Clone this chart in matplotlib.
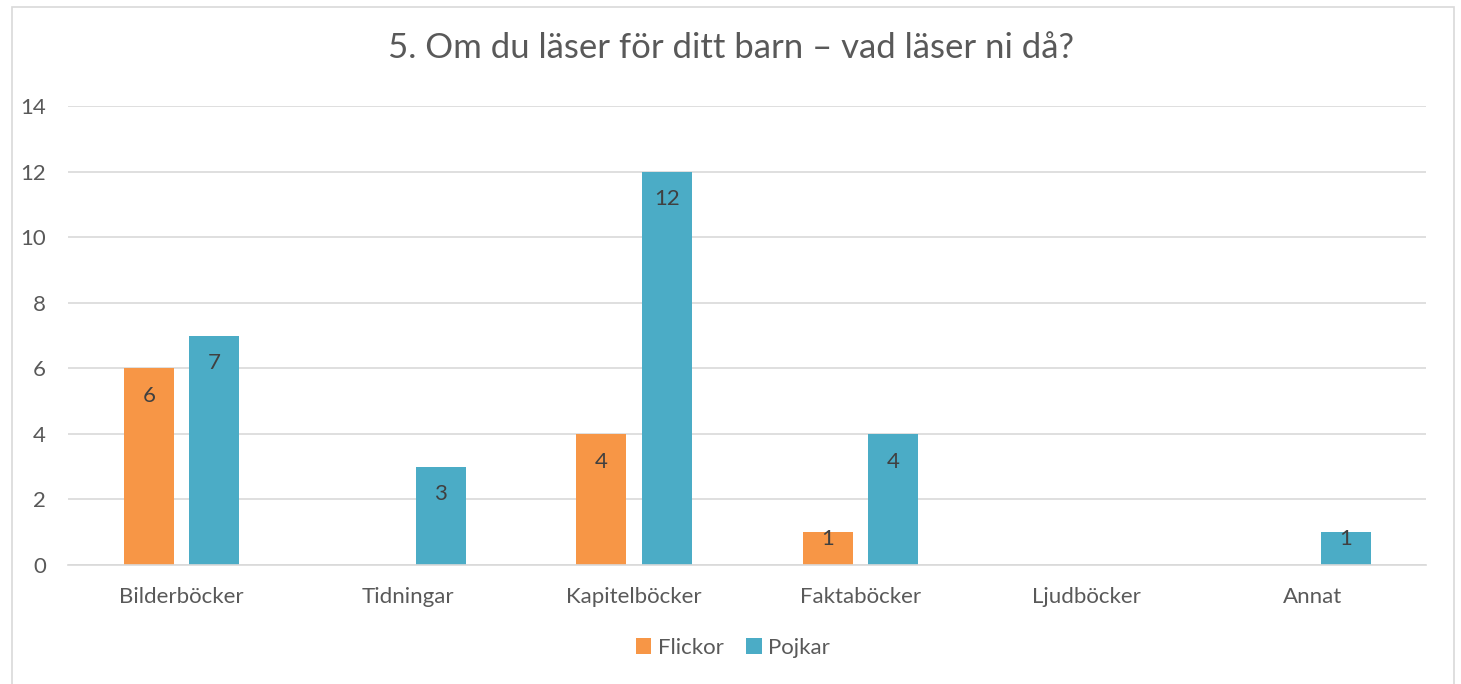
import matplotlib.pyplot as plt
import numpy as np
from matplotlib.patches import Rectangle

categories = ["Bilderböcker", "Tidningar", "Kapitelböcker", "Faktaböcker", "Ljudböcker", "Annat"]
flickor = [6, 0, 4, 1, 0, 0]
pojkar = [7, 3, 12, 4, 0, 1]
title = "5. Om du läser för ditt barn – vad läser ni då?"

plt.rcParams["font.family"] = ["Lato", "DejaVu Sans"]
TEXT = "#595959"
ORANGE = "#F79646"
TEAL = "#4BACC6"

fig = plt.figure(figsize=(14.61, 6.84), dpi=100)
ax = fig.add_axes([68 / 1461, 1 - 565 / 684, (1426 - 68) / 1461, (565 - 106) / 684])

x = np.arange(len(categories))
w = 0.221
b1 = ax.bar(x - 0.143, flickor, w, color=ORANGE, label="Flickor", zorder=2)
b2 = ax.bar(x + 0.146, pojkar, w, color=TEAL, label="Pojkar", zorder=2)

# labels sit inside the bar top; short bars push them up to the edge
for bars, vals in [(b1, flickor), (b2, pojkar)]:
    for rect, v in zip(bars, vals):
        if v == 0:
            continue
        off = -20 if v >= 2 else -5
        ax.annotate(str(v), (rect.get_x() + rect.get_width() / 2, v),
                    xytext=(0, off), textcoords="offset points",
                    ha="center", va="center", fontsize=16, color="#404040")

ax.set_xlim(-0.5, len(categories) - 0.5)
ax.set_ylim(0, 14)
ax.set_yticks(range(0, 15, 2))
ax.set_xticks(x)
ax.set_xticklabels(categories)
ax.tick_params(axis="both", length=0, labelsize=16, colors=TEXT)
ax.tick_params(axis="y", pad=16)
ax.tick_params(axis="x", pad=16)
ax.grid(axis="y", color="#D9D9D9", linewidth=1.2, zorder=0)
for s in ["top", "right", "left"]:
    ax.spines[s].set_visible(False)
ax.spines["bottom"].set_color("#D9D9D9")
ax.spines["bottom"].set_linewidth(1.2)

fig.text(0.5, 1 - 48 / 684, title, ha="center", va="center", fontsize=25, color=TEXT)

fig.legend(loc="center", bbox_to_anchor=(733 / 1461, 1 - 648 / 684), ncol=2,
           frameon=False, fontsize=16, labelcolor=TEXT, handlelength=0.7,
           handleheight=0.7, handletextpad=0.3, columnspacing=1.0)

fig.patches.append(Rectangle((12 / 1461, -0.01), (1454 - 12) / 1461, 1 - 7 / 684 + 0.01,
                             transform=fig.transFigure, fill=False,
                             edgecolor="#D9D9D9", linewidth=1.2))

fig.savefig("out.png", dpi=100)
